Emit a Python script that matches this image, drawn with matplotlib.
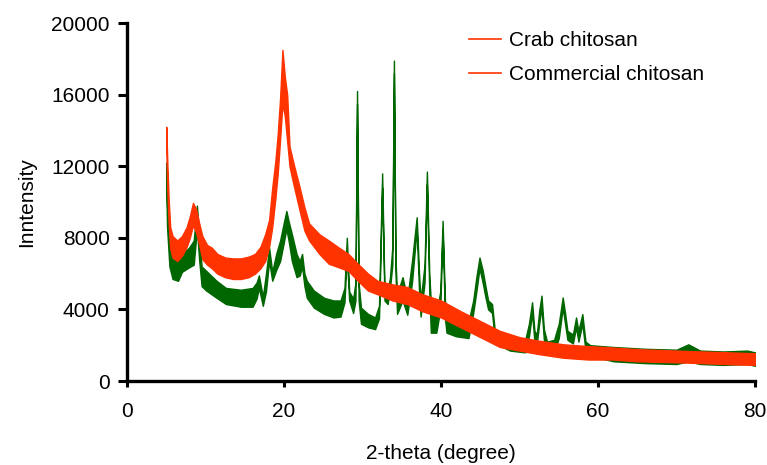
import matplotlib.pyplot as plt
from matplotlib.lines import Line2D

plt.rcParams['font.family'] = ['Liberation Sans', 'DejaVu Sans']

# crab chitosan (orange) - noise band: angle, lower edge, upper edge
crab_x = [5.0, 5.15, 5.3, 5.5, 5.8, 6.4, 7.0, 7.6, 8.0, 8.4, 8.8, 9.2, 9.6, 10.2, 10.8,
          11.5, 12.5, 13.5, 14.5, 15.5, 16.3, 17.0, 17.6, 18.1, 18.5, 18.9, 19.2, 19.5,
          19.8, 20.1, 20.4, 20.7, 21.3, 22.0, 22.6, 23.2, 24.5, 25.7, 27.0, 28.2, 29.4,
          30.7, 31.9, 33.8, 35.7, 37.6, 40.0, 42.5, 45.0, 47.5, 50.0, 52.5, 55.6, 58.8,
          61.9, 65.0, 71.2, 77.5, 80.0]
crab_lo = [13000, 10500, 8800, 7400, 6900, 6700, 7000, 7500, 8000, 8700, 8300, 7600, 6800,
           6500, 6300, 6000, 5800, 5700, 5700, 5800, 6000, 6300, 6700, 7500, 8600, 10200,
           11600, 13500, 15500, 14800, 13400, 12000, 10800, 9500, 8400, 7850, 7100, 6550,
           6350, 6150, 5600, 5050, 4850, 4500, 4300, 3900, 3550, 3000, 2450, 1900, 1700,
           1500, 1300, 1200, 1200, 1100, 1030, 930, 900]
crab_hi = [14200, 12000, 10200, 8600, 8100, 7850, 8100, 8600, 9200, 9950, 9600, 8800, 8100,
           7600, 7450, 7100, 6900, 6850, 6850, 6950, 7100, 7500, 8200, 9000, 10800, 12300,
           13800, 15800, 18500, 17000, 16000, 13100, 12000, 10800, 9700, 8800, 8200, 7850,
           7450, 7100, 6550, 6000, 5600, 5400, 5250, 4850, 4500, 3900, 3350, 2800, 2450,
           2250, 2050, 1950, 1870, 1780, 1680, 1590, 1550]

# commercial chitosan (green)
comm_x = [5.0, 5.1, 5.4, 5.8, 6.5, 7.0, 7.9, 8.5, 8.9, 9.2, 9.5, 10.1, 11.4, 12.6, 14.5,
          16.0, 16.5, 16.8, 17.3, 17.7, 18.1, 18.5, 19.0, 19.5, 20.0, 20.3, 20.6, 21.0,
          21.6, 22.0, 22.3, 22.6, 22.9, 23.8, 25.1, 26.3, 27.2, 27.7, 28.0, 28.3, 28.8,
          29.1, 29.3, 29.5, 29.8, 30.7, 31.6, 32.1, 32.5, 32.8, 33.2, 33.5, 33.8, 34.0,
          34.2, 34.4, 35.1, 35.7, 36.3, 36.9, 37.2, 37.4, 37.9, 38.2, 38.5, 38.7, 39.4,
          39.9, 40.2, 40.5, 40.7, 41.9, 43.5, 44.1, 44.5, 44.9, 45.3, 45.7, 46.0, 46.5,
          46.9, 48.8, 50.7, 51.2, 51.6, 51.9, 52.2, 52.5, 52.8, 53.1, 53.5, 54.4, 55.0,
          55.5, 55.8, 56.1, 56.8, 57.2, 57.5, 58.0, 58.4, 59.0, 62.0, 66.0, 70.0, 71.5,
          73.0, 76.0, 79.0, 80.0]
comm_lo = [11000, 8600, 6400, 5700, 5600, 6100, 6350, 6500, 8500, 6700, 5300, 5050, 4650,
           4300, 4150, 4150, 4600, 5200, 4200, 5000, 6700, 5600, 6200, 6700, 7800, 8500,
           7800, 6700, 5800, 5900, 6400, 5300, 4650, 4100, 3750, 3550, 3600, 4400, 7000,
           4500, 3800, 4500, 15500, 4500, 3200, 3000, 2900, 3500, 10800, 4500, 4300, 5200,
           6500, 17200, 6000, 3750, 4500, 3700, 5500, 8500, 5000, 3600, 5500, 11000, 5000,
           2700, 2700, 4000, 8400, 3500, 2700, 2500, 2400, 3800, 5000, 6300, 5500, 4600,
           4000, 3800, 2100, 1700, 1600, 2500, 3800, 2200, 2100, 3200, 4100, 2300, 1600,
           1600, 2400, 4100, 3200, 2300, 2100, 3000, 2200, 3200, 1700, 1400, 1100, 1000,
           950, 1100, 950, 900, 950, 850]
comm_hi = [12200, 9800, 7400, 6800, 6700, 7100, 7450, 7850, 9800, 8200, 6400, 6150, 5600,
           5200, 5100, 5200, 5500, 5900, 4700, 6000, 7450, 6100, 7100, 7850, 8900, 9500,
           8900, 8200, 7100, 6700, 7100, 6000, 5600, 5050, 4650, 4500, 4500, 5200, 8000,
           5000, 4600, 5500, 16200, 5500, 4100, 3750, 3550, 4200, 11600, 5000, 5000, 5800,
           7500, 17900, 6800, 4850, 5800, 4600, 6700, 9150, 6000, 4500, 6500, 11700, 6000,
           4400, 3700, 5000, 8950, 4500, 3700, 3500, 3300, 4500, 5800, 6900, 6200, 5200,
           4500, 4300, 2600, 2400, 2250, 3200, 4400, 2800, 2600, 3900, 4770, 2900, 2200,
           2300, 3200, 4670, 3800, 2800, 2600, 3550, 2800, 3740, 2200, 2000, 1900, 1800,
           1750, 2050, 1700, 1650, 1700, 1600]

orange = '#ff3300'
green = '#006600'

fig = plt.figure(figsize=(7.67, 4.65), dpi=100)
ax = fig.add_axes([0.1656, 0.1806, 0.8188, 0.7699])

ax.fill_between(comm_x, comm_lo, comm_hi, color=green, lw=1.0)
ax.fill_between(crab_x, crab_lo, crab_hi, color=orange, lw=1.0)

ax.set_xlim(0, 80)
ax.set_ylim(0, 20000)
ax.set_xticks([0, 20, 40, 60, 80])
ax.set_yticks([0, 4000, 8000, 12000, 16000, 20000])

for s in ['top', 'right']:
    ax.spines[s].set_visible(False)
for s in ['left', 'bottom']:
    ax.spines[s].set_linewidth(2.4)
ax.tick_params(axis='y', length=6.5, width=2.2, pad=6, labelsize=15)
ax.tick_params(axis='x', length=4, width=2.2, pad=11, labelsize=15)

ax.set_xlabel('2-theta (degree)', fontsize=15, labelpad=17)
ax.set_ylabel('Inntensity', fontsize=15, labelpad=11)

handles = [Line2D([], [], color=orange, lw=1.2), Line2D([], [], color=orange, lw=1.2)]
ax.legend(handles, ['Crab chitosan', 'Commercial chitosan'], loc='upper left',
          bbox_to_anchor=(0.545, 0.977), borderaxespad=0, borderpad=0, frameon=False,
          fontsize=15, handlelength=1.5, handletextpad=0.4, labelspacing=0.7)

fig.savefig('out.png', dpi=100)
